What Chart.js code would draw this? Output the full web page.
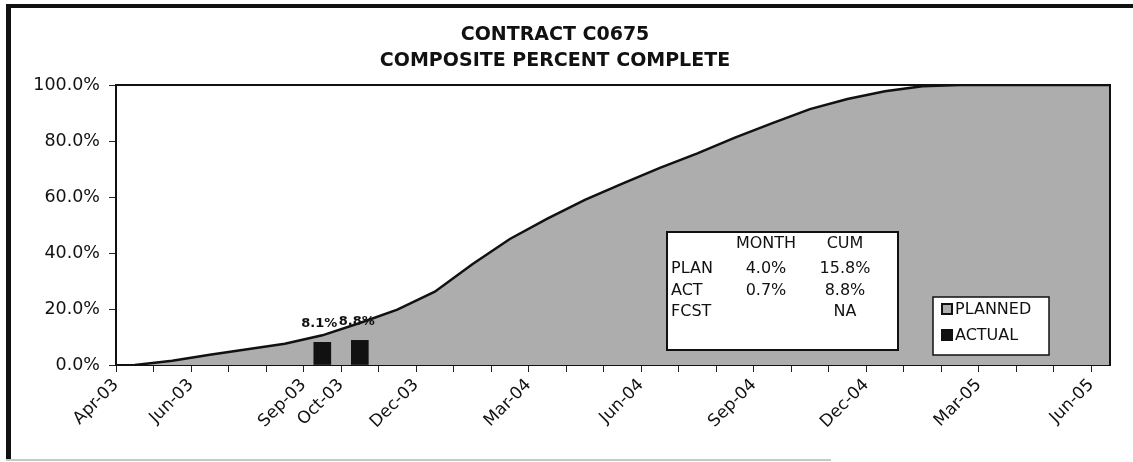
<!DOCTYPE html>
<html>
<head>
<meta charset="utf-8">
<script src="https://cdn.jsdelivr.net/npm/chart.js@4.4.1/dist/chart.umd.min.js"></script>
<style>
  html, body { margin: 0; padding: 0; background: #fff; }
  #wrap { position: relative; width: 1133px; height: 462px; overflow: hidden; }
  #myChart { position: absolute; left: 0; top: 0; }
  #frameLeft { position: absolute; left: 6px; top: 4px; width: 5px; height: 456px; background: #111; }
  #frameTop { position: absolute; left: 6px; top: 4px; width: 1127px; height: 4px; background: #111; }
  #frameBottom { position: absolute; left: 6px; top: 459px; width: 825px; height: 2px; background: #c8c8c8; }
</style>
</head>
<body>
<div id="wrap">
  <canvas id="myChart" width="1133" height="462"></canvas>
  <div id="frameLeft"></div>
  <div id="frameTop"></div>
  <div id="frameBottom"></div>
</div>
<script>
// Chart data
const months = ['Apr-03', 'May-03', 'Jun-03', 'Jul-03', 'Aug-03', 'Sep-03', 'Oct-03', 'Nov-03', 'Dec-03',
  'Jan-04', 'Feb-04', 'Mar-04', 'Apr-04', 'May-04', 'Jun-04', 'Jul-04', 'Aug-04', 'Sep-04', 'Oct-04',
  'Nov-04', 'Dec-04', 'Jan-05', 'Feb-05', 'Mar-05', 'Apr-05', 'May-05', 'Jun-05'];
const shownMonths = ['Apr-03', 'Jun-03', 'Sep-03', 'Oct-03', 'Dec-03', 'Mar-04', 'Jun-04', 'Sep-04', 'Dec-04', 'Mar-05', 'Jun-05'];
const plannedCum = [0, 1.5, 3.7, 5.6, 7.6, 10.6, 15.0, 19.8, 26.2, 36.0, 45.0, 52.3, 59.0, 64.8,
  70.4, 75.6, 81.2, 86.4, 91.4, 95.0, 97.8, 99.6, 100, 100, 100, 100, 100];
const actualMonths = ['Sep-03', 'Oct-03'];
const actualCum = [8.1, 8.8];
const yTicks = [0, 20, 40, 60, 80, 100];
const tableHead = ['', 'MONTH', 'CUM'];
const tableRows = [['PLAN', '4.0%', '15.8%'], ['ACT', '0.7%', '8.8%'], ['FCST', '', 'NA']];
const legendItems = ['PLANNED', 'ACTUAL'];

const FONT = "'DejaVu Sans', sans-serif";
const planGray = '#adadad';

// values sit in the middle of their month
const monthPos = m => months.indexOf(m) + 0.5;
const planPoints = plannedCum.map((v, i) => ({ x: i + 0.5, y: v }));
const actualPoints = actualMonths.map((m, i) => ({ x: monthPos(m), y: actualCum[i] }));

// draws the bar labels, plot border, the summary table and the legend
const overlays = {
  id: 'overlays',
  afterDatasetsDraw(chart) {
    const ctx = chart.ctx;
    const a = chart.chartArea;
    ctx.save();

    // plot area border top / right
    ctx.strokeStyle = '#111';
    ctx.lineWidth = 2;
    ctx.beginPath();
    ctx.moveTo(a.left, a.top);
    ctx.lineTo(a.right, a.top);
    ctx.lineTo(a.right, a.bottom);
    ctx.stroke();

    // value labels above the actual bars
    const meta = chart.getDatasetMeta(1);
    ctx.fillStyle = '#111';
    ctx.font = 'bold 13px ' + FONT;
    ctx.textAlign = 'center';
    ctx.textBaseline = 'middle';
    meta.data.forEach((bar, i) => {
      ctx.fillText(actualCum[i].toFixed(1) + '%', bar.x - 3, bar.y - 19);
    });

    // summary table
    const tb = { l: 667, t: 232, r: 898, b: 350 };
    ctx.fillStyle = '#fff';
    ctx.fillRect(tb.l, tb.t, tb.r - tb.l, tb.b - tb.t);
    ctx.lineWidth = 2;
    ctx.strokeRect(tb.l, tb.t, tb.r - tb.l, tb.b - tb.t);
    ctx.fillStyle = '#111';
    ctx.font = '16px ' + FONT;
    const colX = [tb.l + 4, 766, 845];
    const rowY = [244, 269, 291, 312];
    [tableHead].concat(tableRows).forEach((row, r) => {
      row.forEach((cell, c) => {
        ctx.textAlign = c === 0 ? 'left' : 'center';
        ctx.fillText(cell, colX[c], rowY[r]);
      });
    });

    // legend
    const lg = { l: 933, t: 297, r: 1049, b: 355 };
    ctx.fillStyle = '#fff';
    ctx.fillRect(lg.l, lg.t, lg.r - lg.l, lg.b - lg.t);
    ctx.lineWidth = 1.5;
    ctx.strokeRect(lg.l, lg.t, lg.r - lg.l, lg.b - lg.t);
    const itemY = [309, 335];
    legendItems.forEach((label, i) => {
      const y = itemY[i];
      if (i === 0) {
        ctx.fillStyle = planGray;
        ctx.fillRect(942, y - 5, 10, 10);
        ctx.lineWidth = 2;
        ctx.strokeRect(942, y - 5, 10, 10);
      } else {
        ctx.fillStyle = '#111';
        ctx.fillRect(941, y - 6, 12, 12);
      }
      ctx.fillStyle = '#111';
      ctx.font = '16px ' + FONT;
      ctx.textAlign = 'left';
      ctx.fillText(label, 955, y + 1);
    });

    ctx.restore();
  }
};

const ctx = document.getElementById('myChart').getContext('2d');
const myChart = new Chart(ctx, {
  type: 'line',
  data: {
    datasets: [
      {
        label: 'PLANNED',
        data: planPoints,
        borderColor: '#111',
        borderWidth: 2.5,
        backgroundColor: planGray,
        fill: 'origin',
        pointRadius: 0,
        tension: 0,
        order: 2
      },
      {
        type: 'bar',
        label: 'ACTUAL',
        data: actualPoints,
        backgroundColor: '#111',
        barThickness: 17,
        order: 1
      }
    ]
  },
  options: {
    responsive: false,
    animation: false,
    layout: { padding: { left: 0, right: 23, top: 0, bottom: 0 } },
    plugins: {
      legend: { display: false },
      tooltip: { enabled: false },
      title: {
        display: true,
        text: ['CONTRACT C0675', 'COMPOSITE PERCENT COMPLETE'],
        color: '#111',
        font: { family: FONT, size: 19, weight: 'bold', lineHeight: 1.37 },
        padding: { top: 22, bottom: 11 }
      }
    },
    scales: {
      x: {
        type: 'linear',
        offset: false,
        min: 0,
        max: 26.5,
        afterBuildTicks: s => { s.ticks = months.map((m, i) => ({ value: i })); },
        afterFit: s => { s.height = 97; },
        grid: { drawOnChartArea: false, offset: false, tickLength: 7, color: '#222' },
        border: { color: '#111', width: 2 },
        ticks: {
          autoSkip: false,
          maxRotation: 45,
          minRotation: 45,
          padding: 3,
          color: '#111',
          font: { family: FONT, size: 17 },
          callback: v => shownMonths.includes(months[v]) ? months[v] : ''
        }
      },
      y: {
        min: 0,
        max: 100,
        afterBuildTicks: s => { s.ticks = yTicks.map(v => ({ value: v })); },
        afterFit: s => { s.width = 116; },
        grid: { drawOnChartArea: false, tickLength: 7, color: '#222' },
        border: { color: '#111', width: 2 },
        ticks: {
          padding: 9,
          color: '#111',
          font: { family: FONT, size: 17.5 },
          callback: v => v.toFixed(1) + '%'
        }
      }
    }
  },
  plugins: [overlays]
});
</script>
</body>
</html>
